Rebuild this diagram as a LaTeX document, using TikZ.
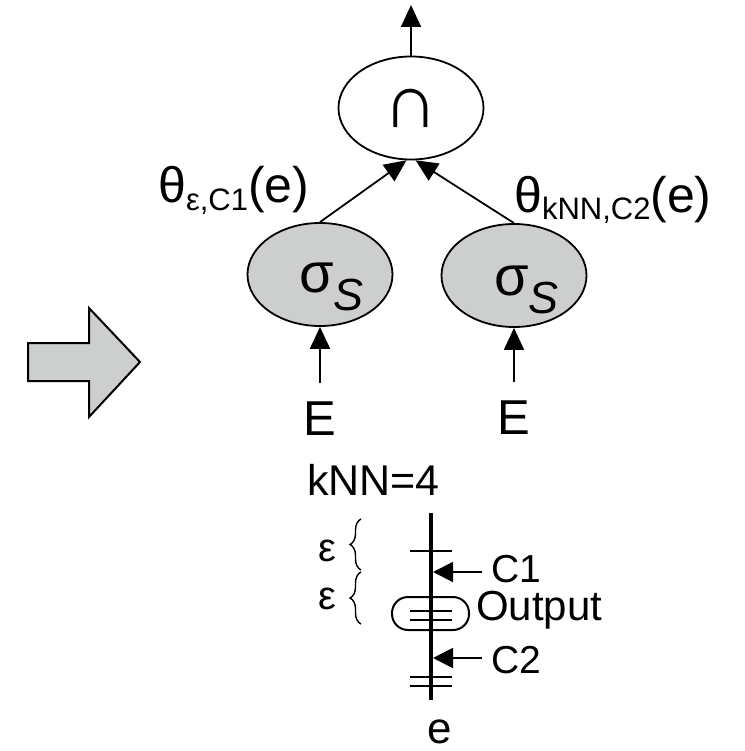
\documentclass[tikz,border=0pt]{standalone}
\usepackage{fontspec}
\setmainfont{Liberation Sans}
\usetikzlibrary{arrows.meta,decorations.pathreplacing,shapes.geometric}
\definecolor{fillgray}{RGB}{205,207,206}
\newcommand{\myfs}[1]{\fontsize{#1}{#1}\selectfont}
\begin{document}
\begin{tikzpicture}[x=1pt,y=-1pt,
  opnode/.style={ellipse,draw,line width=1.8pt,minimum width=145pt,minimum height=103pt,inner sep=0pt},
  grayop/.style={opnode,fill=fillgray},
  lab/.style={inner sep=0pt,anchor=base west},
  clab/.style={inner sep=0pt,anchor=base},
  conn/.style={line width=1.8pt,-{Triangle[length=22pt,width=20pt]}},
  pointer/.style={line width=2pt,-{Triangle[length=20pt,width=20pt]}},
  tickmark/.style={line width=2.5pt},
  brc/.style={line width=1.4pt,decorate,decoration={brace,amplitude=11pt}}
  ]
\useasboundingbox (0,0) rectangle (744,751);

% block arrow
\draw[line width=2pt,fill=fillgray,line join=miter] (28,343) -- (89,343) -- (89,308) -- (140,362) -- (89,417) -- (89,381) -- (28,381) -- cycle;

% operator tree
\node[opnode] (inter) at (411,108) {\myfs{76}∩};
\node[grayop] (sl) at (320,274.5) {};
\node[grayop] (sr) at (514,275.5) {};
\node[lab] (sigl) at (299,292) {\myfs{56}σ\raisebox{-18pt}{\myfs{45}\itshape S}};
\node[lab] (sigr) at (494,295) {\myfs{56}σ\raisebox{-18pt}{\myfs{45}\itshape S}};

\node[lab] (thl) at (158,203) {\myfs{50}θ\raisebox{-8pt}{\myfs{31}ε,C1}(e)};
\node[lab] (thr) at (514,213) {\myfs{50}θ\raisebox{-6pt}{\myfs{31}kNN,C2}(e)};

\node[clab] (el) at (320,435) {\myfs{49}E};
\node[clab] (er) at (514,434) {\myfs{49}E};

\coordinate (out) at (411,5);
\draw[conn] (inter.north) -- (out);
\draw[conn] (sl.north) -- (inter.265);
\draw[conn] (sr.north) -- (inter.275);
\draw[conn,shorten <=18pt] (el.north) -- (sl.south);
\draw[conn,shorten <=18pt] (er.north) -- (sr.south);

% kNN scale
\node[lab] (knn) at (307,495) {\myfs{43}kNN=4};
\coordinate (etop) at (431,513);
\coordinate (ebot) at (431,700);
\draw[line width=4.5pt] (etop) -- (ebot);
\draw[tickmark] (410,551) -- (452,551);
\draw[tickmark] (410,611) -- (452,611);
\draw[tickmark] (410,620) -- (452,620);
\draw[tickmark] (410,677) -- (452,677);
\draw[tickmark] (410,686) -- (452,686);
\draw[line width=2pt,rounded corners=16pt] (392,597) rectangle (469,630);

\coordinate (c1s) at (482,572);
\coordinate (c1t) at (433,572);
\coordinate (c2s) at (482,658);
\coordinate (c2t) at (433,658);
\draw[pointer] (c1s) -- (c1t);
\draw[pointer] (c2s) -- (c2t);

\node[lab] (c1) at (491,582) {\myfs{39}C1};
\node[lab] (outp) at (476,620) {\myfs{42}Output};
\node[lab] (c2) at (491,673) {\myfs{39}C2};
\node[clab] (e) at (440,743) {\myfs{44}e};

\node[lab] (eps1) at (318,561) {\myfs{40}ε};
\node[lab] (eps2) at (318,609) {\myfs{40}ε};
\draw[brc] (361,570) -- (361,519);
\draw[brc] (361,624) -- (361,572);
\end{tikzpicture}
\end{document}
